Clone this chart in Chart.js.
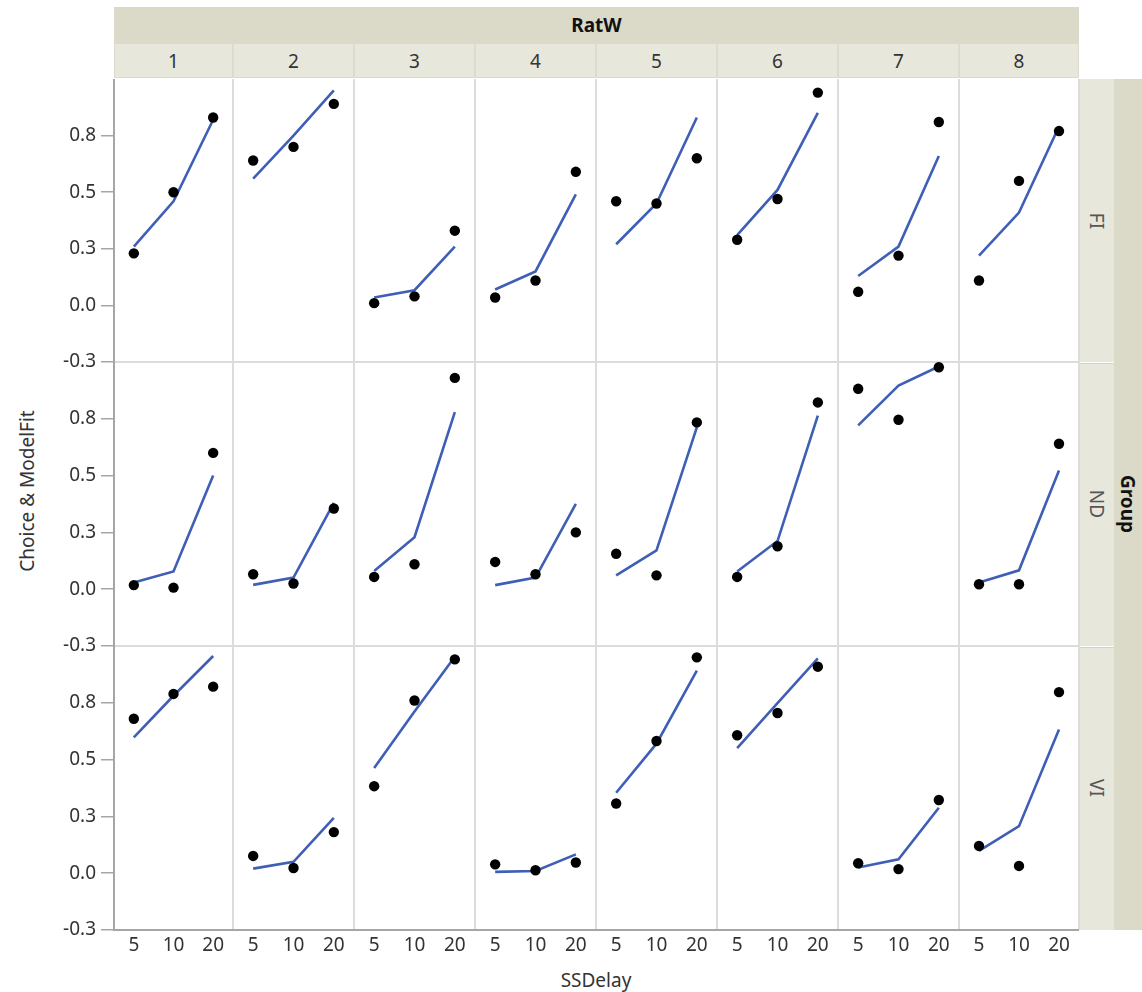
<!DOCTYPE html>
<html>
<head>
<meta charset="utf-8">
<script src="https://cdn.jsdelivr.net/npm/chart.js@4.4.1/dist/chart.umd.min.js"></script>
<style>
  html, body { margin:0; padding:0; background:#fff; }
  body { width:1142px; height:992px; position:relative; overflow:hidden; font-family:"Noto Sans","Open Sans",sans-serif; }
  .abs { position:absolute; }
  canvas { position:absolute; }
  .band { background:#dbd9c8; }
  .cell { background:#e7e7dc; box-sizing:border-box; border:1px solid #dcdbcd; color:#333; font-size:19px; display:flex; align-items:center; justify-content:center; }
  .vline { position:absolute; width:2px; background:#dcdcdc; }
  .hline { position:absolute; height:2px; background:#dcdcdc; }
  .rot { position:absolute; transform-origin:center center; white-space:nowrap; }
</style>
</head>
<body>
<script>
// ---- data ----
const delays = ['5', '10', '20'];
const ratW = ['1', '2', '3', '4', '5', '6', '7', '8'];
const groups = ['FI', 'ND', 'VI'];
const yTicks = [-0.25, 0, 0.25, 0.5, 0.75];

const choiceFI = [[0.23,0.50,0.83],[0.64,0.70,0.89],[0.01,0.04,0.33],[0.035,0.11,0.59],[0.46,0.45,0.65],[0.29,0.47,0.94],[0.06,0.22,0.81],[0.11,0.55,0.77]];
const fitFI    = [[0.26,0.46,0.82],[0.56,0.75,0.95],[0.035,0.067,0.26],[0.07,0.15,0.49],[0.27,0.45,0.83],[0.31,0.51,0.85],[0.13,0.26,0.66],[0.22,0.41,0.79]];
const choiceND = [[0.018,0.007,0.60],[0.066,0.025,0.355],[0.054,0.11,0.93],[0.12,0.066,0.25],[0.156,0.061,0.734],[0.054,0.189,0.822],[0.882,0.746,0.977],[0.022,0.022,0.64]];
const fitND    = [[0.029,0.078,0.50],[0.019,0.051,0.38],[0.08,0.229,0.779],[0.018,0.051,0.376],[0.061,0.171,0.712],[0.078,0.212,0.764],[0.721,0.896,0.98],[0.029,0.083,0.522]];
const choiceVI = [[0.68,0.789,0.821],[0.076,0.023,0.181],[0.383,0.76,0.941],[0.039,0.013,0.047],[0.307,0.582,0.95],[0.607,0.705,0.909],[0.044,0.018,0.322],[0.12,0.032,0.797]];
const fitVI    = [[0.598,0.781,0.956],[0.02,0.05,0.244],[0.463,0.712,0.953],[0.006,0.01,0.083],[0.354,0.57,0.892],[0.551,0.749,0.946],[0.025,0.061,0.288],[0.098,0.207,0.632]];

const choiceByGroup = [choiceFI, choiceND, choiceVI];
const fitByGroup = [fitFI, fitND, fitVI];

// ---- layout ----
const colEdges = [114, 233, 354, 475, 596, 717, 838, 959, 1079];
const rowEdges = [79, 362, 646, 930];
const Y_AXIS_W = 74, X_AXIS_H = 36, LABEL_OVERFLOW = 14;
const LINE_COLOR = '#3f5fb6';
const FONT = 19;
const body = document.body;

function div(cls, css, text) {
  const d = document.createElement('div');
  if (cls) d.className = cls;
  Object.assign(d.style, css);
  if (text !== undefined) d.textContent = text;
  body.appendChild(d);
  return d;
}

// header bands
div('abs band', {left:'114px', top:'7px', width:(1079-114)+'px', height:'36px'});
div('abs', {left:'114px', top:'7px', width:(1079-114)+'px', height:'36px', display:'flex', alignItems:'center', justifyContent:'center', fontWeight:'bold', fontSize:FONT+'px', color:'#111'}, 'RatW');
ratW.forEach((r, c) => {
  div('abs cell', {left:colEdges[c]+'px', top:'43px', width:(colEdges[c+1]-colEdges[c])+'px', height:'35px'}, r);
});
// right strips
div('abs band', {left:'1114px', top:'79px', width:'28px', height:(930-79)+'px'});
div('rot', {left:(1128-40)+'px', top:(504-13)+'px', width:'80px', height:'26px', lineHeight:'26px', textAlign:'center', transform:'rotate(90deg)', fontWeight:'bold', fontSize:FONT+'px', color:'#111'}, 'Group');
groups.forEach((g, r) => {
  const top = rowEdges[r] + (r ? 1 : 0), h = rowEdges[r+1] - rowEdges[r] - (r ? 1 : 0);
  div('abs', {left:'1080px', top:top+'px', width:'34px', height:h+'px', background:'#e7e7dc', boxSizing:'border-box', borderTop: r ? '1px solid #d4d3c4' : 'none'});
  const cy = (rowEdges[r] + rowEdges[r+1]) / 2;
  div('rot', {left:(1097-30)+'px', top:(cy-13)+'px', width:'60px', height:'26px', lineHeight:'26px', textAlign:'center', transform:'rotate(90deg)', fontSize:FONT+'px', color:'#555'}, g);
});
// panel separators
for (let c = 1; c < 8; c++) div('vline', {left:(colEdges[c]-1)+'px', top:'79px', height:(930-79)+'px'});
div('vline', {left:'1078px', top:'79px', height:(930-79)+'px'});
for (let r = 1; r < 3; r++) div('hline', {left:'114px', top:(rowEdges[r]-1)+'px', width:(1079-114)+'px'});

// axis titles
div('rot', {left:(27-120)+'px', top:(491-13)+'px', width:'240px', height:'26px', lineHeight:'26px', textAlign:'center', transform:'rotate(-90deg)', fontSize:FONT+'px', color:'#333'}, 'Choice & ModelFit');
div('abs', {left:'496px', top:'967px', width:'200px', textAlign:'center', fontSize:FONT+'px', color:'#333'}, 'SSDelay');

// ---- charts ----
groups.forEach((g, r) => {
  ratW.forEach((rw, c) => {
    const isLeft = c === 0, isBottom = r === 2;
    const extraBottom = (isLeft && !isBottom) ? LABEL_OVERFLOW : 0;
    const left = isLeft ? colEdges[0] - Y_AXIS_W : colEdges[c];
    const width = colEdges[c+1] - left;
    const top = rowEdges[r];
    const height = rowEdges[r+1] - rowEdges[r] + (isBottom ? X_AXIS_H : 0) + extraBottom;
    const cv = document.createElement('canvas');
    cv.width = width; cv.height = height;
    cv.style.left = left + 'px'; cv.style.top = top + 'px';
    cv.style.width = width + 'px'; cv.style.height = height + 'px';
    body.appendChild(cv);
    new Chart(cv, {
      type: 'line',
      data: {
        labels: delays,
        datasets: [
          { label: 'Choice', data: choiceByGroup[r][c], showLine: false, pointRadius: 5.2, pointHoverRadius: 5.2,
            pointBackgroundColor: '#000', pointBorderColor: '#000', pointBorderWidth: 0, clip: false },
          { label: 'ModelFit', data: fitByGroup[r][c], borderColor: LINE_COLOR, borderWidth: 2.6, pointRadius: 0,
            fill: false, tension: 0, clip: false }
        ]
      },
      options: {
        responsive: false, animation: false, devicePixelRatio: 1,
        layout: { padding: { top: 0, left: 0, right: 0, bottom: extraBottom }, autoPadding: false },
        plugins: { legend: { display: false }, tooltip: { enabled: false } },
        events: [],
        scales: {
          x: {
            type: 'category', offset: true, display: isBottom,
            grid: { display: false, drawTicks: false },
            border: { display: true, color: '#a6a6a6', width: 2 },
            ticks: { padding: 4, color: '#333', font: { family: 'Noto Sans', size: FONT }, maxRotation: 0, autoSkip: false },
            afterFit: s => { if (!isBottom) return; s.height = X_AXIS_H; s.paddingLeft = 0; s.paddingRight = 0; s.paddingTop = 0; s.paddingBottom = 0; }
          },
          y: {
            type: 'linear', min: -0.25, max: 1.0, display: isLeft,
            afterBuildTicks: s => { s.ticks = yTicks.map(v => ({ value: v })); },
            grid: { display: true, drawOnChartArea: false, drawTicks: true, tickLength: 13, color: '#a6a6a6', lineWidth: 1.5 },
            border: { display: true, color: '#a6a6a6', width: 2 },
            ticks: { padding: 5, color: '#333', font: { family: 'Noto Sans', size: FONT },
                     callback: v => Number(v).toFixed(1) },
            afterFit: s => { if (!isLeft) return; s.width = Y_AXIS_W; s.paddingTop = 0; s.paddingBottom = 0; s.paddingLeft = 0; s.paddingRight = 0; }
          }
        }
      }
    });
  });
});
</script>
</body>
</html>
